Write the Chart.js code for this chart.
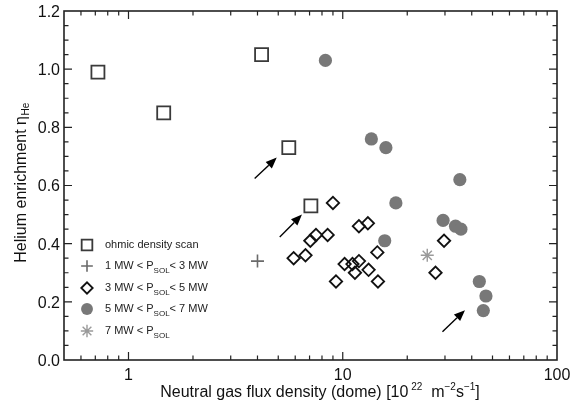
<!DOCTYPE html>
<html>
<head>
<meta charset="utf-8">
<script src="https://cdn.jsdelivr.net/npm/chart.js@4/dist/chart.umd.min.js"></script>
<style>
  html, body { margin: 0; padding: 0; background: #fff; }
  #wrap { width: 581px; height: 403px; }
</style>
</head>
<body>
<div id="wrap"><canvas id="myChart" width="581" height="403"></canvas></div>
<script>
// ---- data ----
const ohmicX = [0.72, 1.46, 4.18, 5.6, 7.1];
const ohmicY = [0.99, 0.85, 1.05, 0.73, 0.53];

const p13X = [4.0];
const p13Y = [0.34];

const p35X = [9.0, 7.5, 7.06, 8.5, 5.9, 6.7, 11.9, 13.1, 14.5, 10.2, 11.1, 11.9, 11.4, 13.2, 9.3, 14.6, 29.7, 27.1];
const p35Y = [0.54, 0.43, 0.41, 0.43, 0.35, 0.36, 0.46, 0.47, 0.37, 0.33, 0.33, 0.34, 0.30, 0.31, 0.27, 0.27, 0.41, 0.30];

const p57X = [8.3, 13.6, 15.9, 35.2, 17.7, 15.7, 29.4, 33.6, 35.6, 43.4, 46.6, 45.3];
const p57Y = [1.03, 0.76, 0.73, 0.62, 0.54, 0.41, 0.48, 0.46, 0.45, 0.27, 0.22, 0.17];

const p7X = [24.8];
const p7Y = [0.36];

// arrows (tail -> tip), data coordinates
const arrowTailX = [3.88, 5.08, 29.2];
const arrowTailY = [0.624, 0.423, 0.097];
const arrowTipX  = [4.92, 6.45, 37.2];
const arrowTipY  = [0.696, 0.50, 0.171];

const xTickLabels = [1, 10, 100];
const yTickLabels = ['0.0', '0.2', '0.4', '0.6', '0.8', '1.0', '1.2'];

const legendPre  = ['ohmic density scan', '1 MW < P', '3 MW < P', '5 MW < P', '7 MW < P'];
const legendSub  = ['', 'SOL', 'SOL', 'SOL', 'SOL'];
const legendPost = ['', '< 3 MW', '< 5 MW', '< 7 MW', ''];

const FONT = '"Liberation Sans", Arial, Helvetica, sans-serif';

const pts = (xs, ys) => xs.map((x, i) => ({ x: x, y: ys[i] }));

const series = [
  { label: 'ohmic', data: pts(ohmicX, ohmicY), pointStyle: 'rect', pointRadius: 9.2, borderColor: '#3a3a3a', backgroundColor: 'rgba(255,255,255,0)', borderWidth: 1.8 },
  { label: 'p13', data: pts(p13X, p13Y), pointStyle: 'cross', pointRadius: 6.5, borderColor: '#6a6a6a', backgroundColor: '#6a6a6a', borderWidth: 1.6 },
  { label: 'p35', data: pts(p35X, p35Y), pointStyle: 'rectRot', pointRadius: 6.2, borderColor: '#111', backgroundColor: 'rgba(255,255,255,0)', borderWidth: 1.8 },
  { label: 'p57', data: pts(p57X, p57Y), pointStyle: 'circle', pointRadius: 6.6, borderColor: '#787878', backgroundColor: '#787878', borderWidth: 0 },
  { label: 'p7', data: pts(p7X, p7Y), pointStyle: 'star', pointRadius: 6.5, borderColor: '#9a9a9a', backgroundColor: '#9a9a9a', borderWidth: 1.4 }
];

function arrow(ctx, x0, y0, x1, y1) {
  const ang = Math.atan2(y1 - y0, x1 - x0);
  const hl = 11, hw = 4.5;
  const bx = x1 - hl * Math.cos(ang), by = y1 - hl * Math.sin(ang);
  ctx.beginPath();
  ctx.moveTo(x0, y0);
  ctx.lineTo(bx, by);
  ctx.lineWidth = 1.4;
  ctx.strokeStyle = '#000';
  ctx.stroke();
  ctx.beginPath();
  ctx.moveTo(x1, y1);
  ctx.lineTo(bx + hw * Math.sin(ang), by - hw * Math.cos(ang));
  ctx.lineTo(bx - hw * Math.sin(ang), by + hw * Math.cos(ang));
  ctx.closePath();
  ctx.fillStyle = '#000';
  ctx.fill();
}

const framePlugin = {
  id: 'frame',
  afterDraw(chart) {
    const ctx = chart.ctx;
    const xs = chart.scales.x, ys = chart.scales.y;
    const a = chart.chartArea;
    ctx.save();

    // frame
    ctx.strokeStyle = '#222';
    ctx.lineWidth = 1.6;
    ctx.strokeRect(a.left, a.top, a.right - a.left, a.bottom - a.top);

    // x ticks (log), inward on top and bottom
    ctx.lineWidth = 1.2;
    for (let d = 0.5; d <= 100; ) {
      const px = xs.getPixelForValue(d);
      const lead = Math.abs(Math.log10(d) - Math.round(Math.log10(d))) < 1e-6;
      const len = lead ? 8 : 4.5;
      if (px > a.left + 1 && px < a.right - 1) {
        ctx.beginPath();
        ctx.moveTo(px, a.bottom); ctx.lineTo(px, a.bottom - len);
        ctx.moveTo(px, a.top); ctx.lineTo(px, a.top + len);
        ctx.stroke();
      }
      const dec = Math.pow(10, Math.floor(Math.log10(d) + 1e-9));
      d = Math.round((d + dec) * 1000) / 1000;
    }

    // y ticks
    for (let i = 0; i <= 24; i++) {
      const v = i * 0.05;
      const py = ys.getPixelForValue(v);
      const len = i % 4 === 0 ? 8 : 4.5;
      if (py < a.bottom - 1 && py > a.top + 1) {
        ctx.beginPath();
        ctx.moveTo(a.left, py); ctx.lineTo(a.left + len, py);
        ctx.moveTo(a.right, py); ctx.lineTo(a.right - len, py);
        ctx.stroke();
      }
    }

    // tick labels
    ctx.fillStyle = '#111';
    ctx.font = '16px ' + FONT;
    ctx.textAlign = 'center';
    ctx.textBaseline = 'alphabetic';
    xTickLabels.forEach(v => ctx.fillText(String(v), xs.getPixelForValue(v), 380));
    ctx.textAlign = 'right';
    ctx.textBaseline = 'middle';
    yTickLabels.forEach(t => ctx.fillText(t, a.left - 4, ys.getPixelForValue(parseFloat(t)) + 1.5));

    // x title with superscripts
    const parts = [
      ['Neutral gas flux density (dome) [10', 0], [' 22', 1], ['  m', 0], ['\u22122', 1], ['s', 0], ['\u22121', 1], [']', 0]
    ];
    const big = '16px ' + FONT, small = '10px ' + FONT;
    let w = 0;
    parts.forEach(p => { ctx.font = p[1] ? small : big; w += ctx.measureText(p[0]).width; });
    let cx = 320 - w / 2;
    ctx.textAlign = 'left';
    ctx.textBaseline = 'alphabetic';
    parts.forEach(p => {
      ctx.font = p[1] ? small : big;
      ctx.fillText(p[0], cx, p[1] ? 390 : 397);
      cx += ctx.measureText(p[0]).width;
    });

    // y title with subscript
    ctx.save();
    ctx.translate(26, 183);
    ctx.rotate(-Math.PI / 2);
    const t1 = 'Helium enrichment \u03b7', t2 = 'He';
    ctx.font = big;
    const w1 = ctx.measureText(t1).width;
    ctx.font = small;
    const w2 = ctx.measureText(t2).width;
    let sx = -(w1 + w2) / 2;
    ctx.font = big;
    ctx.fillText(t1, sx, 0);
    ctx.font = small;
    ctx.fillText(t2, sx + w1 + 0.5, 3);
    ctx.restore();

    // arrows
    for (let i = 0; i < arrowTailX.length; i++) {
      arrow(ctx, xs.getPixelForValue(arrowTailX[i]), ys.getPixelForValue(arrowTailY[i]),
                 xs.getPixelForValue(arrowTipX[i]), ys.getPixelForValue(arrowTipY[i]));
    }

    // legend
    const rowY = [245, 266, 288, 309, 331];
    const scale = [0.82, 0.9, 0.92, 0.9, 0.95];
    series.forEach((s, i) => {
      ctx.fillStyle = s.backgroundColor;
      ctx.strokeStyle = s.borderColor;
      ctx.lineWidth = s.borderWidth;
      Chart.helpers.drawPoint(ctx, { pointStyle: s.pointStyle, radius: s.pointRadius * scale[i], borderWidth: s.borderWidth, rotation: 0 }, 87, rowY[i]);
      ctx.fillStyle = '#222';
      ctx.textAlign = 'left';
      ctx.textBaseline = 'middle';
      ctx.font = '11px ' + FONT;
      let tx = 105;
      ctx.fillText(legendPre[i], tx, rowY[i]);
      tx += ctx.measureText(legendPre[i]).width;
      if (legendSub[i]) {
        ctx.font = '8px ' + FONT;
        ctx.fillText(legendSub[i], tx, rowY[i] + 5);
        tx += ctx.measureText(legendSub[i]).width;
        ctx.font = '11px ' + FONT;
        ctx.fillText(legendPost[i], tx, rowY[i]);
      }
    });

    ctx.restore();
  }
};

new Chart(document.getElementById('myChart').getContext('2d'), {
  type: 'scatter',
  data: { datasets: series },
  options: {
    responsive: false,
    animation: false,
    layout: { padding: { left: 64, right: 24, top: 10, bottom: 43 } },
    plugins: { legend: { display: false }, tooltip: { enabled: false } },
    scales: {
      x: { type: 'logarithmic', min: 0.5, max: 100, display: false },
      y: { type: 'linear', min: 0, max: 1.2, display: false }
    }
  },
  plugins: [framePlugin]
});
</script>
</body>
</html>
